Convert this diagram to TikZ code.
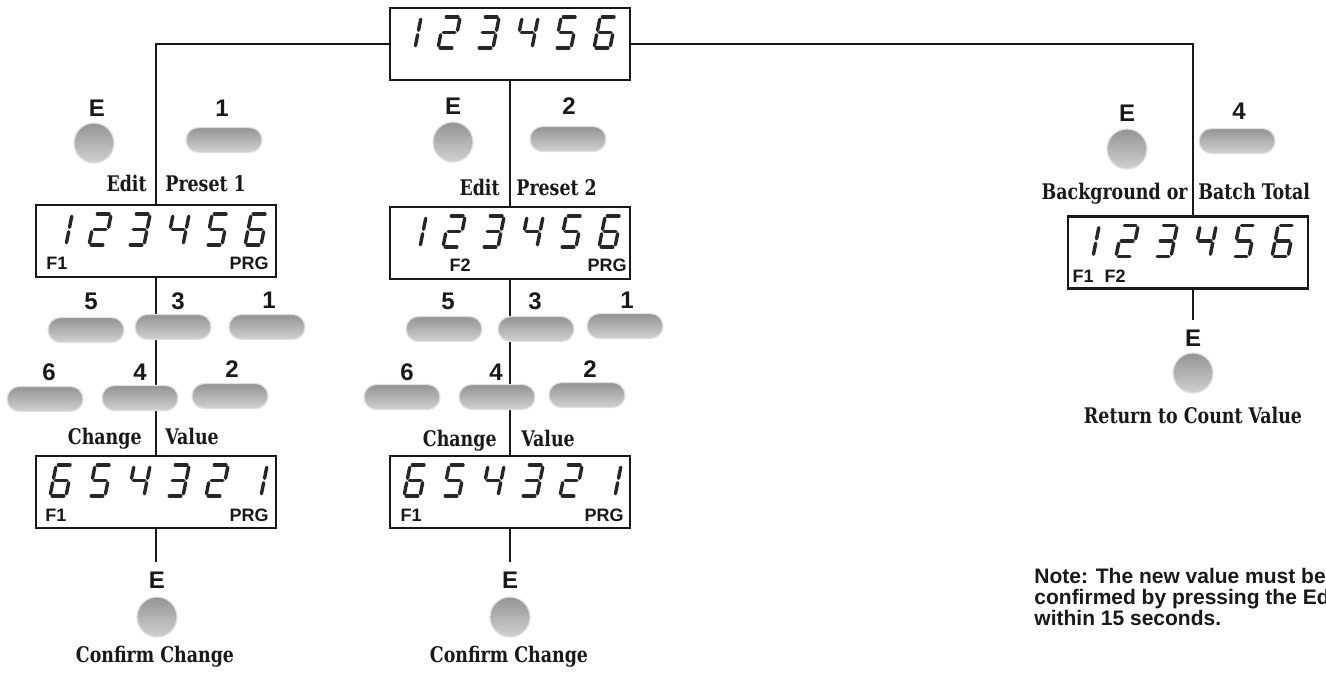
\documentclass[tikz,border=0pt]{standalone}
\usepackage{fontspec}
\newfontfamily\lsans{Liberation Sans}
\newfontfamily\slab[FakeStretch=0.9]{DejaVu Serif Condensed}
\usetikzlibrary{calc}
\tikzset{
  conn/.style={draw=black!90, line width=1pt},
  dispbox/.style={draw=black!90, line width=1.1pt, minimum width=120pt, minimum height=36pt, inner sep=0pt},
  seg/.style={line width=1.7pt, line cap=round, draw=black!85},
  rbtn/.style={circle, minimum size=20pt, inner sep=0pt, top color=black!42, bottom color=black!18, draw=black!12, line width=0.6pt},
  pill/.style={rectangle, rounded corners=6.25pt, minimum width=38pt, minimum height=12.5pt, inner sep=0pt, top color=black!42, bottom color=black!18, draw=black!12, line width=0.6pt},
  keylbl/.style={font=\lsans\bfseries\fontsize{12}{12}\selectfont, inner sep=0pt, anchor=base, text=black!90},
  indlbl/.style={font=\lsans\bfseries\fontsize{9}{9}\selectfont, inner sep=0pt, text=black!90},
  slablbl/.style={font=\slab\bfseries\fontsize{10.75}{10.75}\selectfont, inner sep=0pt, text=black!90},
  notelbl/.style={font=\lsans\bfseries\fontsize{10.5}{10.5}\selectfont, inner sep=0pt, anchor=base west, text=black!90},
}
\def\segA{\draw[seg] (2.2,-31) -- (13.8,-31);}
\def\segB{\draw[seg] (16,-28.8) -- (16,-17.7);}
\def\segC{\draw[seg] (16,-13.3) -- (16,-2.2);}
\def\segD{\draw[seg] (2.2,0) -- (13.8,0);}
\def\segE{\draw[seg] (0,-13.3) -- (0,-2.2);}
\def\segF{\draw[seg] (0,-28.8) -- (0,-17.7);}
\def\segG{\draw[seg] (2.2,-15.5) -- (13.8,-15.5);}
\expandafter\def\csname ssdg1\endcsname{\segB\segC}
\expandafter\def\csname ssdg2\endcsname{\segA\segB\segG\segE\segD}
\expandafter\def\csname ssdg3\endcsname{\segA\segB\segG\segC\segD}
\expandafter\def\csname ssdg4\endcsname{\segF\segG\segB\segC}
\expandafter\def\csname ssdg5\endcsname{\segA\segF\segG\segC\segD}
\expandafter\def\csname ssdg6\endcsname{\segA\segF\segG\segE\segD\segC}
\newcommand\SSdigit[3]{\begin{scope}[shift={(#1,#2)},xslant=0.2]\csname ssdg#3\endcsname\end{scope}}
\newcommand\sixdig[9]{%
  \SSdigit{#1+#3}{#2+40}{#4}%
  \SSdigit{#1+#3+39}{#2+40}{#5}%
  \SSdigit{#1+#3+78}{#2+40}{#6}%
  \SSdigit{#1+#3+117}{#2+40}{#7}%
  \SSdigit{#1+#3+156}{#2+40}{#8}%
  \SSdigit{#1+#3+195}{#2+40}{#9}}
\begin{document}
\begin{tikzpicture}[x=0.5pt,y=-0.5pt]
\useasboundingbox (0,0) rectangle (1326,673);
\clip (0,0) rectangle (1326,673);
\fill[white] (0,0) rectangle (1326,673);

% displays
\node[dispbox] (T) at (510,44) {};
\node[dispbox] (L1) at (156,241) {};
\node[dispbox] (M1) at (510,243) {};
\node[dispbox] (L2) at (156,492) {};
\node[dispbox] (M2) at (510,492) {};
\node[dispbox] (R) at (1188,252.5) {};

% connectors
\draw[conn] (T.west) -| (L1.north);
\draw[conn] (T.east) -| ([xshift=2.5pt]R.north);
\draw[conn] (T.south) -- (M1.north);
\draw[conn] (L1.south) -- (L2.north);
\draw[conn] (M1.south) -- (M2.north);
\coordinate (L3) at (156,562);
\coordinate (M3) at (510,562);
\coordinate (R3) at (1193,320);
\draw[conn] (L2.south) -- (L3);
\draw[conn] (M2.south) -- (M3);
\draw[conn] ([xshift=2.5pt]R.south) -- (R3);

% digits
\sixdig{390}{8}{9}{1}{2}{3}{4}{5}{6}
\sixdig{36}{205}{14}{1}{2}{3}{4}{5}{6}
\sixdig{390}{207}{14}{1}{2}{3}{4}{5}{6}
\sixdig{36}{456}{14}{6}{5}{4}{3}{2}{1}
\sixdig{390}{456}{14}{6}{5}{4}{3}{2}{1}
\sixdig{1068}{216.5}{9}{1}{2}{3}{4}{5}{6}

% indicator labels
\node[indlbl, anchor=base] (L1f) at (57,270) {F1};
\node[indlbl, anchor=base east] (L1p) at (269,270) {PRG};
\node[indlbl, anchor=base] (M1f) at (460,272) {F2};
\node[indlbl, anchor=base east] (M1p) at (627,272) {PRG};
\node[indlbl, anchor=base] (L2f) at (56,521) {F1};
\node[indlbl, anchor=base east] (L2p) at (269,521) {PRG};
\node[indlbl, anchor=base] (M2f) at (411,521) {F1};
\node[indlbl, anchor=base east] (M2p) at (624,521) {PRG};
\node[indlbl, anchor=base] (Rf1) at (1083,283) {F1};
\node[indlbl, anchor=base] (Rf2) at (1115,283) {F2};

% left column buttons
\node[keylbl] (kLE) at (97,117) {E};
\node[rbtn] (bLE) at (94,143) {};
\node[keylbl] (kL1) at (222,117) {1};
\node[pill] (bL1) at (224,140) {};
\node[keylbl] (kL5) at (91,310) {5};
\node[pill] (bL5) at (86,330) {};
\node[keylbl] (kL3) at (178,310) {3};
\node[pill] (bL3) at (173,327) {};
\node[keylbl] (kL1b) at (269,308) {1};
\node[pill] (bL1b) at (267,327) {};
\node[keylbl] (kL6) at (49,380) {6};
\node[pill] (bL6) at (45,399) {};
\node[keylbl] (kL4) at (140,380) {4};
\node[pill] (bL4) at (140,398) {};
\node[keylbl] (kL2) at (232,378) {2};
\node[pill] (bL2) at (230,396) {};
\node[keylbl] (kLE2) at (157,588) {E};
\node[rbtn] (bLE2) at (157,617) {};

% middle column buttons
\node[keylbl] (kME) at (453,115) {E};
\node[rbtn] (bME) at (453,142) {};
\node[keylbl] (kM2) at (569,115) {2};
\node[pill] (bM2) at (568,139) {};
\node[keylbl] (kM5) at (448,310) {5};
\node[pill] (bM5) at (444,329) {};
\node[keylbl] (kM3) at (535,310) {3};
\node[pill] (bM3) at (536,329) {};
\node[keylbl] (kM1) at (627,308) {1};
\node[pill] (bM1) at (625,326) {};
\node[keylbl] (kM6) at (407,380) {6};
\node[pill] (bM6) at (402,397) {};
\node[keylbl] (kM4) at (496,380) {4};
\node[pill] (bM4) at (497,397) {};
\node[keylbl] (kM2b) at (590,378) {2};
\node[pill] (bM2b) at (587,395) {};
\node[keylbl] (kME2) at (510,588) {E};
\node[rbtn] (bME2) at (510,617) {};

% right column buttons
\node[keylbl] (kRE) at (1127,122) {E};
\node[rbtn] (bRE) at (1127,149) {};
\node[keylbl] (kR4) at (1239,120) {4};
\node[pill] (bR4) at (1237,141) {};
\node[keylbl] (kRE2) at (1193,347) {E};
\node[rbtn] (bRE2) at (1193,373) {};

% captions
\node[slablbl, anchor=base east] (cL1a) at (147,192) {Edit};
\node[slablbl, anchor=base west] (cL1b) at (165,192) {Preset 1};
\node[slablbl, anchor=base east] (cM1a) at (500,196) {Edit};
\node[slablbl, anchor=base west] (cM1b) at (516,196) {Preset 2};
\node[slablbl, anchor=base east] (cRa) at (1188,200) {Background or};
\node[slablbl, anchor=base west] (cRb) at (1198,200) {Batch Total};
\node[slablbl, anchor=base east] (cL2a) at (142,444) {Change};
\node[slablbl, anchor=base west] (cL2b) at (165,444) {Value};
\node[slablbl, anchor=base east] (cM2a) at (497,446) {Change};
\node[slablbl, anchor=base west] (cM2b) at (521,446) {Value};
\node[slablbl, anchor=base] (cL3) at (155,662) {Confirm Change};
\node[slablbl, anchor=base] (cM3) at (509,662) {Confirm Change};
\node[slablbl, anchor=base] (cR3) at (1193,423) {Return to Count Value};

% note
\node[notelbl] (n1) at (1034,583) {Note: The new value must be};
\node[notelbl] (n2) at (1034,604) {confirmed by pressing the Edit key};
\node[notelbl] (n3) at (1034,625) {within 15 seconds.};
\end{tikzpicture}
\end{document}
